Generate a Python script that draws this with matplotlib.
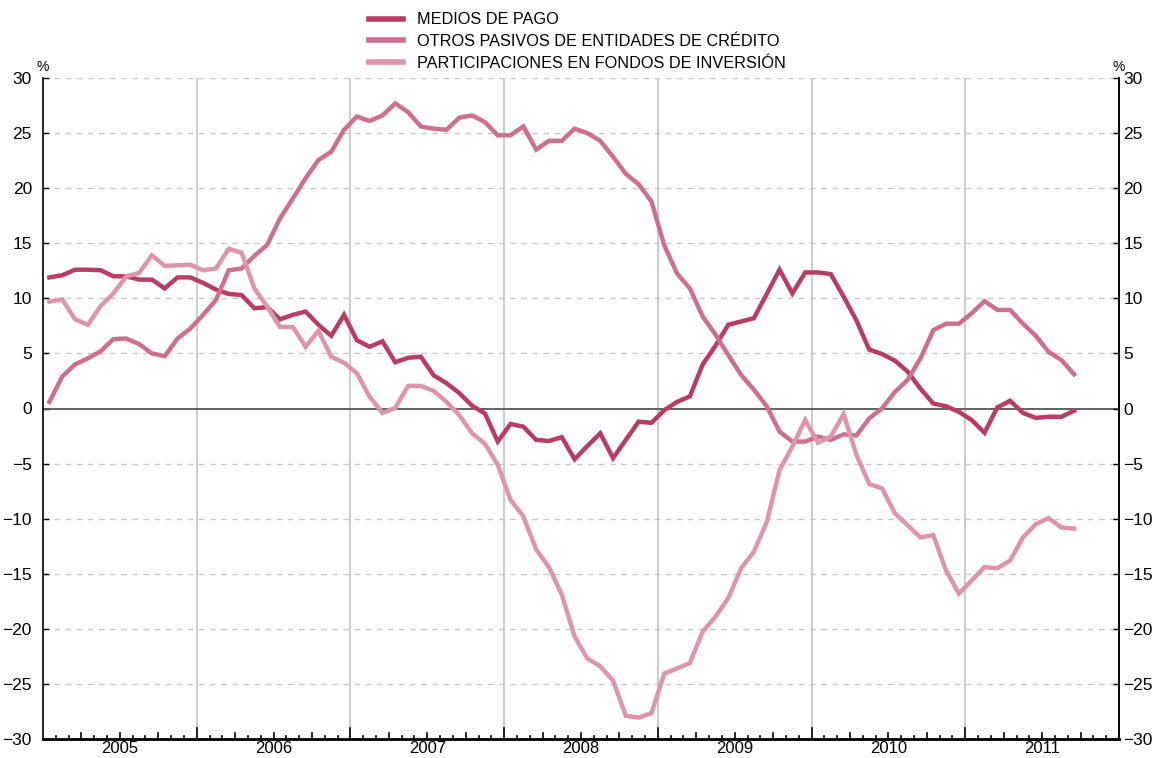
import numpy as np
import matplotlib.pyplot as plt
from matplotlib.lines import Line2D

plt.rcParams['font.family'] = ['Liberation Sans', 'DejaVu Sans']

# monthly series, Jan 2005 - Sep 2011 (year-on-year growth, %)
medios_pago = [
    11.9, 12.1, 12.6, 12.6, 12.55, 12.0, 12.0, 11.7, 11.7, 10.9, 11.9, 11.9,
    11.4, 10.8, 10.4, 10.3, 9.1, 9.2, 8.1, 8.5, 8.8, 7.6, 6.6, 8.5,
    6.2, 5.6, 6.1, 4.2, 4.6, 4.7, 3.0, 2.3, 1.4, 0.25, -0.45, -3.0,
    -1.4, -1.65, -2.85, -2.95, -2.6, -4.6, -3.4, -2.25, -4.5, -2.85, -1.2, -1.3,
    -0.15, 0.6, 1.1, 4.0, 5.7, 7.6, 7.9, 8.2, 10.4, 12.6, 10.45, 12.35,
    12.35, 12.2, 10.15, 8.0, 5.35, 4.95, 4.35, 3.35, 1.8, 0.45, 0.2, -0.3,
    -1.05, -2.2, 0.1, 0.7, -0.4, -0.85, -0.75, -0.75, -0.2,
]
otros_pasivos = [
    0.6, 2.9, 4.0, 4.55, 5.2, 6.3, 6.35, 5.85, 5.0, 4.75, 6.35, 7.25,
    8.5, 9.85, 12.55, 12.7, 13.85, 14.85, 17.25, 19.05, 20.9, 22.55, 23.3, 25.3,
    26.5, 26.1, 26.6, 27.7, 26.9, 25.6, 25.4, 25.3, 26.4, 26.6, 26.0, 24.8,
    24.8, 25.6, 23.5, 24.3, 24.3, 25.4, 25.0, 24.3, 22.85, 21.3, 20.35, 18.8,
    14.8, 12.25, 10.9, 8.35, 6.7, 4.85, 3.05, 1.7, 0.2, -2.1, -3.0, -3.0,
    -2.55, -2.85, -2.35, -2.45, -0.9, 0.0, 1.5, 2.6, 4.55, 7.1, 7.7, 7.7,
    8.65, 9.75, 8.95, 8.95, 7.7, 6.6, 5.15, 4.4, 3.1,
]
fondos_inversion = [
    9.7, 9.9, 8.1, 7.6, 9.3, 10.45, 12.0, 12.3, 13.9, 12.95, 13.0, 13.05,
    12.55, 12.7, 14.5, 14.15, 10.9, 9.25, 7.4, 7.4, 5.6, 7.05, 4.7, 4.15,
    3.2, 1.07, -0.4, 0.05, 2.05, 2.05, 1.6, 0.6, -0.6, -2.25, -3.2, -5.1,
    -8.3, -9.8, -12.8, -14.4, -16.9, -20.7, -22.7, -23.4, -24.7, -27.9, -28.05, -27.65,
    -24.05, -23.6, -23.1, -20.25, -18.9, -17.2, -14.5, -13.0, -10.3, -5.6, -3.45, -1.05,
    -3.1, -2.55, -0.5, -4.2, -6.85, -7.25, -9.5, -10.6, -11.7, -11.5, -14.7, -16.8,
    -15.6, -14.4, -14.5, -13.8, -11.7, -10.5, -9.95, -10.8, -10.9,
]
series_names = ['MEDIOS DE PAGO', 'OTROS PASIVOS DE ENTIDADES DE CRÉDITO',
                'PARTICIPACIONES EN FONDOS DE INVERSIÓN']
colors = ['#b83c64', '#cf6f8f', '#dc95aa']
years = [2005, 2006, 2007, 2008, 2009, 2010, 2011]

# x in fractional years, each point at mid-month
x = 2005 + (np.arange(len(medios_pago)) + 0.5) / 12.0

W, H = 1153, 758
fig = plt.figure(figsize=(W / 100, H / 100), dpi=100)
ax = fig.add_axes([43 / W, 1 - 739 / H, (1119 - 43) / W, (739 - 78) / H])
ax_h_px = 739 - 78

ax.set_xlim(2005, 2012)
ax.set_ylim(-30, 30)

# grid: dashed horizontals, solid year separators, zero line
for yv in range(-25, 31, 5):
    if yv != 0:
        ax.axhline(yv, color='#c8c8c8', lw=1, ls=(0, (4, 4)), zorder=1)
for yr in years[1:]:
    ax.axvline(yr, color='#c4c4c8', lw=1.2, zorder=1)
ax.axhline(0, color='#555555', lw=1.3, zorder=2)

for vals, c in zip([medios_pago, otros_pasivos, fondos_inversion], colors):
    ax.plot(x, vals, color=c, lw=3.2, solid_joinstyle='miter', zorder=3)

# axes frame
ax.spines['top'].set_visible(False)
ax.spines['left'].set_linewidth(1.2)
ax.spines['right'].set_linewidth(1.2)
ax.spines['bottom'].set_linewidth(2)

yticks = list(range(-30, 31, 5))
ax.set_yticks(yticks)
ax.tick_params(axis='y', direction='in', length=4, width=1, labelsize=12.5,
               left=True, right=False, pad=8)

# right-hand scale
axr = ax.twinx()
axr.set_ylim(-30, 30)
axr.set_yticks(yticks)
axr.tick_params(axis='y', direction='in', length=4, width=1, labelsize=12.5, pad=3)
for s in ['top', 'left', 'bottom']:
    axr.spines[s].set_visible(False)
axr.spines['right'].set_linewidth(1.2)

# monthly / quarterly / yearly ticks along the bottom
ax.set_xticks([])
xtrans = ax.get_xaxis_transform()
for i in range(1, 84):
    m = 2005 + i / 12.0
    if i % 12 == 0:
        h = 11
    elif i % 3 == 0:
        h = 6
    else:
        h = 3.5
    ax.plot([m, m], [0, h / ax_h_px], transform=xtrans, color='black',
            lw=1.2, clip_on=False, zorder=4)

for yr in years:
    ax.text(yr + 0.5, -0.003, str(yr), transform=xtrans,
            ha='center', va='top', fontsize=12)

ax.text(0.0, 1.006, '%', transform=ax.transAxes, ha='center', va='bottom', fontsize=10)
ax.text(1.0, 1.006, '%', transform=ax.transAxes, ha='center', va='bottom', fontsize=10)

# legend at the top
handles = [Line2D([0], [0], color=c, lw=4) for c in colors]
fig.legend(handles, series_names, loc='upper left', bbox_to_anchor=(362 / W, 1 - 6 / H),
           frameon=False, fontsize=11.7, handlelength=2.1, handletextpad=0.9,
           labelspacing=0.4, borderaxespad=0)

fig.savefig('out.png', dpi=100)
